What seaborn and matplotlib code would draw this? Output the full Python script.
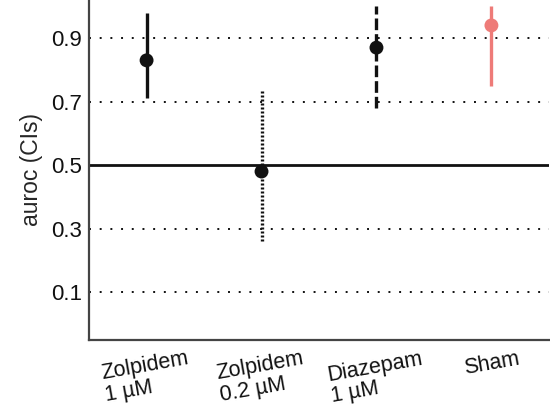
import matplotlib
matplotlib.use("Agg")
import matplotlib.pyplot as plt
import seaborn as sns
import pandas as pd

conditions = ["Zolpidem\n1 µM", "Zolpidem\n0.2 µM", "Diazepam\n1 µM", "Sham"]
auroc = [0.83, 0.48, 0.87, 0.94]
ci_low = [0.71, 0.26, 0.68, 0.75]
ci_high = [0.98, 0.74, 1.00, 1.00]
colors = ["#111111", "#111111", "#111111", "#EE7B78"]
line_styles = ["-", (0, (0.6, 0.6)), (0, (3.5, 1.2)), "-"]
y_ticks = [0.1, 0.3, 0.5, 0.7, 0.9]

sns.set_theme(style="white")
plt.rcParams["font.family"] = ["Liberation Sans", "DejaVu Sans"]

df = pd.DataFrame({"condition": conditions, "auroc": auroc})

fig = plt.figure(figsize=(5.5, 4.08), dpi=100)
ax = fig.add_axes([0.162, 0.167, 0.836, 0.833])

# reference lines: dotted grid, solid chance level
for y in y_ticks:
    if y == 0.5:
        ax.axhline(y, color="#111111", lw=2.0, zorder=1)
    else:
        ax.axhline(y, color="#111111", lw=1.4, ls=(0, (1, 4.5)), zorder=1)

# confidence intervals
for i, (lo, hi, c, ls) in enumerate(zip(ci_low, ci_high, colors, line_styles)):
    ax.vlines(i, lo, hi, colors=c, linestyles=[ls], lw=2.4, zorder=2)

sns.scatterplot(data=df, x="condition", y="auroc", hue="condition",
                palette=colors, s=100, edgecolor="none", legend=False,
                ax=ax, zorder=3)

ax.set_xlim(-0.5, 3.5)
ax.set_ylim(-0.05, 1.02)
ax.set_yticks(y_ticks)
ax.set_yticklabels([f"{v:.1f}" for v in y_ticks], fontsize=16)
ax.set_xticks(range(len(conditions)))
ax.set_xticklabels(conditions, fontsize=15.5, rotation=10, ha="center",
                   multialignment="left", va="top", linespacing=1.05)
ax.set_xlabel("")
ax.set_ylabel("auroc (CIs)", fontsize=16.5, labelpad=6)

for side in ["top", "right"]:
    ax.spines[side].set_visible(False)
for side in ["left", "bottom"]:
    ax.spines[side].set_color("#444444")
    ax.spines[side].set_linewidth(1.6)

ax.tick_params(axis="both", direction="in", length=7, width=1.4,
               color="#333333", labelcolor="#111111", pad=5)
ax.tick_params(axis="x", pad=6)

fig.savefig("out.png", dpi=100)
